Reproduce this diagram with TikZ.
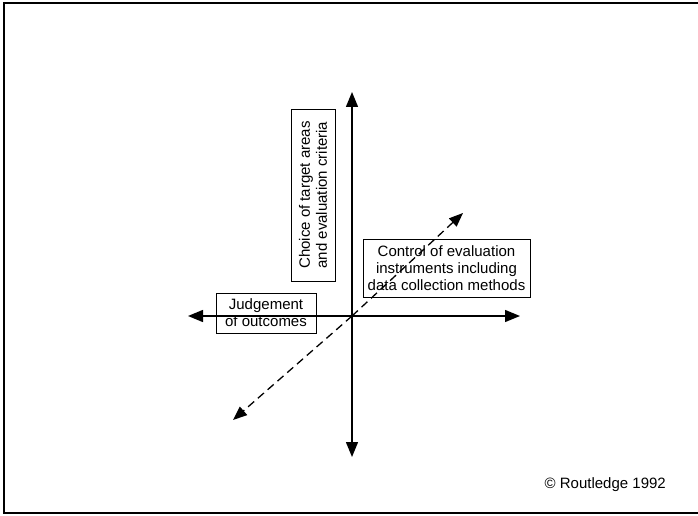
\documentclass[tikz,border=0pt]{standalone}
\usepackage{fontspec}
\setmainfont{Liberation Sans}
\usetikzlibrary{arrows.meta}
\tikzset{lbl/.style={draw,line width=.9pt,align=center,inner sep=0pt,font=\fontsize{15}{17}\selectfont},
  bigtip/.style={{Triangle[length=15pt,width=12pt]}-{Triangle[length=15pt,width=12pt]}}}

\begin{document}
\begin{tikzpicture}[x=1pt,y=-1pt]
\useasboundingbox(0,0)rectangle(698,516);
\draw[line width=1.6pt](698,3)--(4,3)--(4,513)--(698,513);
\coordinate(o)at(352,316);\coordinate(up)at(352,92);\coordinate(dn)at(352,457);
\coordinate(lt)at(188,316);\coordinate(rt)at(520,316);\coordinate(ne)at(463,213);\coordinate(sw)at(233,420);
\draw[bigtip,line width=1.4pt](dn)--(up);\draw[bigtip,line width=1.4pt](lt)--(rt);
\draw[-{Triangle[length=14pt,width=11pt]},line width=1.3pt,dash pattern=on 8pt off 5pt](o)--(ne);
\draw[-{Triangle[length=14pt,width=11pt]},line width=1.3pt,dash pattern=on 8pt off 5pt](o)--(sw);
% labels
\node[lbl,rotate=90,minimum width=172pt,minimum height=44pt](choice)at(313,195){Choice of target areas\\and evaluation criteria};
\node[lbl,minimum width=100pt,minimum height=40pt](judge)at(266,313){Judgement\\of outcomes};
\node[lbl,minimum width=167pt,minimum height=58pt](ctrl)at(446.5,268){Control of evaluation\\instruments including\\data collection methods};
\node[anchor=base east,inner sep=0pt,font=\fontsize{15}{17}\selectfont](copy)at(666,488){© Routledge 1992};
\end{tikzpicture}
\end{document}
